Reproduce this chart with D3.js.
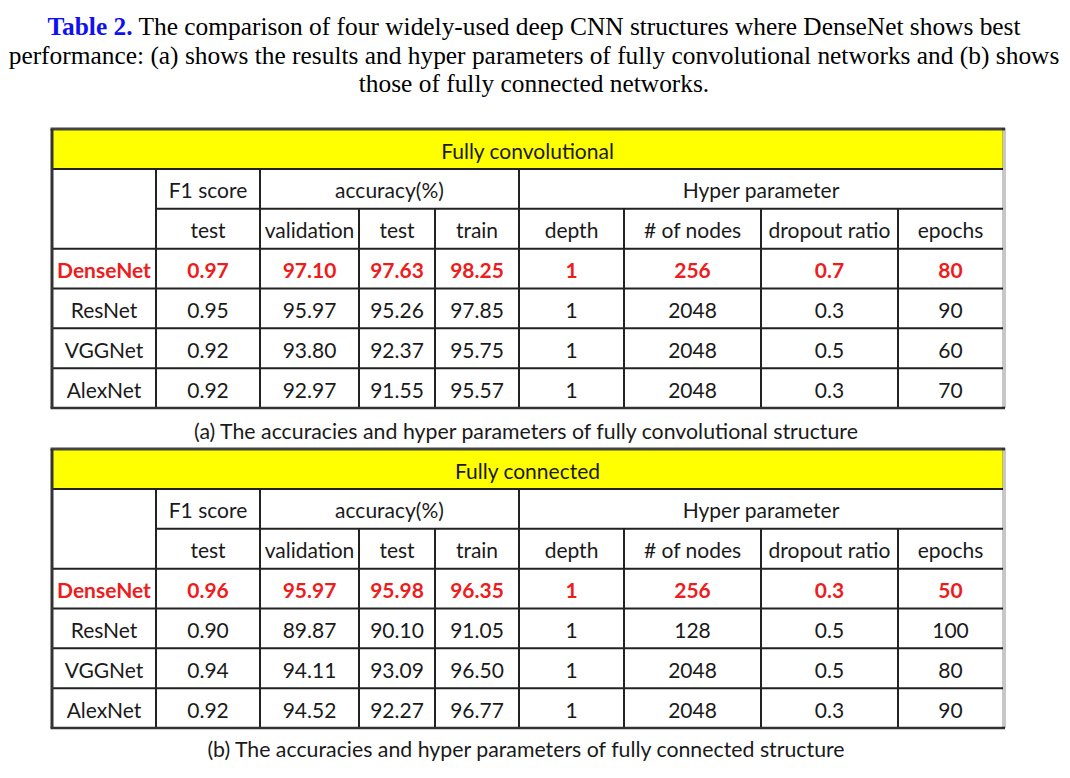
<!DOCTYPE html>
<html>
<head>
<meta charset="utf-8">
<script src="https://cdn.jsdelivr.net/npm/d3@7"></script>
<style>
  html, body { margin: 0; padding: 0; background: #fff; }
  svg { display: block; }
</style>
</head>
<body>
<div id="chart"></div>
<script>
// table data
const models = ['DenseNet', 'ResNet', 'VGGNet', 'AlexNet']
const groupHeaders = ['F1 score', 'accuracy(%)', 'Hyper parameter']
const subHeaders = ['test', 'validation', 'test', 'train', 'depth', '# of nodes', 'dropout ratio', 'epochs']

const convF1 = [0.97, 0.95, 0.92, 0.92]
const convValidation = [97.10, 95.97, 93.80, 92.97]
const convTest = [97.63, 95.26, 92.37, 91.55]
const convTrain = [98.25, 97.85, 95.75, 95.57]
const convDepth = [1, 1, 1, 1]
const convNodes = [256, 2048, 2048, 2048]
const convDropout = [0.7, 0.3, 0.5, 0.3]
const convEpochs = [80, 90, 60, 70]

const connF1 = [0.96, 0.90, 0.94, 0.92]
const connValidation = [95.97, 89.87, 94.11, 94.52]
const connTest = [95.98, 90.10, 93.09, 92.27]
const connTrain = [96.35, 91.05, 96.50, 96.77]
const connDepth = [1, 1, 1, 1]
const connNodes = [256, 128, 2048, 2048]
const connDropout = [0.3, 0.5, 0.5, 0.3]
const connEpochs = [50, 100, 80, 90]

const bestModel = 'DenseNet'

const W = 1070, H = 778
const cellFont = 'Lato, "Open Sans", sans-serif'
const colEdges = [52, 156, 260, 359, 435, 519, 624, 761, 898, 1003]
const f2 = d3.format('.2f'), f1 = d3.format('.1f'), f0 = d3.format('d')
const colFormats = [d => d, f2, f2, f2, f2, f0, f0, f1, f0]
// which column span each group header covers
const groupSpans = [[1, 2], [2, 5], [5, 9]]

const svg = d3.select('#chart').append('svg')
  .attr('width', W)
  .attr('height', H)

// caption
const title = svg.append('text')
  .attr('text-anchor', 'middle')
  .style('font-family', '"Liberation Serif", "Times New Roman", serif')
  .style('font-size', '25.4px')
  .attr('fill', '#000')

const line1 = title.append('tspan').attr('x', 534).attr('y', 35)
line1.append('tspan').attr('fill', '#1010f0').style('font-weight', 'bold').text('Table 2.')
line1.append('tspan').text(' The comparison of four widely-used deep CNN structures where DenseNet shows best')
title.append('tspan').attr('x', 534).attr('y', 64)
  .text('performance: (a) shows the results and hyper parameters of fully convolutional networks and (b) shows')
title.append('tspan').attr('x', 534).attr('y', 92)
  .text('those of fully connected networks.')

function drawTable(top, heading, columns, caption, captionY) {
  const rowKeys = ['head', 'group', 'sub', ...models]
  const rowH = 239 / 6
  // yellow heading row is 40px, the rest share the remaining height
  const y = d3.scaleBand()
    .domain(rowKeys.slice(1))
    .range([top + 40, top + 40 + 239])
  const rowTop = k => k === 'head' ? top : y(k)
  const rowMid = k => k === 'head' ? top + 20 : y(k) + y.bandwidth() / 2
  const bottom = top + 40 + 239
  const x = i => colEdges[i]
  const cx = (a, b) => (colEdges[a] + colEdges[b]) / 2

  const g = svg.append('g')

  g.append('rect')
    .attr('x', x(0)).attr('y', top)
    .attr('width', x(9) - x(0)).attr('height', 40)
    .attr('fill', '#ffff00')

  // horizontal rules
  const hRules = [
    { y: top + 40, x0: 0 },
    { y: rowTop('sub'), x0: 1 },
    ...models.map(m => ({ y: rowTop(m), x0: 0 }))
  ]
  g.selectAll('.hrule')
    .data(hRules)
    .join('line')
    .attr('x1', d => x(d.x0)).attr('x2', x(9))
    .attr('y1', d => d.y).attr('y2', d => d.y)
    .attr('stroke', '#222').attr('stroke-width', 2)

  // vertical rules: some start under the group header
  const vRules = d3.range(1, 9).map(i => ({
    i,
    y0: [1, 2, 5].includes(i) ? top + 40 : rowTop('sub')
  }))
  g.selectAll('.vrule')
    .data(vRules)
    .join('line')
    .attr('x1', d => x(d.i)).attr('x2', d => x(d.i))
    .attr('y1', d => d.y0).attr('y2', bottom)
    .attr('stroke', '#222').attr('stroke-width', 2)

  // outer border
  g.append('line')
    .attr('x1', x(0) - 1.5).attr('x2', x(9) + 2).attr('y1', top).attr('y2', top)
    .attr('stroke', '#444').attr('stroke-width', 3)
  g.append('line')
    .attr('x1', x(0) - 1.5).attr('x2', x(9) + 2).attr('y1', bottom).attr('y2', bottom)
    .attr('stroke', '#333').attr('stroke-width', 2.5)
  g.append('line')
    .attr('x1', x(0)).attr('x2', x(0)).attr('y1', top).attr('y2', bottom)
    .attr('stroke', '#333').attr('stroke-width', 3)
  g.append('rect')
    .attr('x', x(9) - 1).attr('y', top - 1)
    .attr('width', 4).attr('height', bottom - top + 1)
    .attr('fill', 'rgba(0,0,0,0.22)')

  const txt = g.append('g')
    .style('font-family', cellFont)
    .style('font-size', '21px')
    .attr('text-anchor', 'middle')
    .attr('dominant-baseline', 'central')

  txt.append('text')
    .attr('x', cx(0, 9)).attr('y', rowMid('head') + 1)
    .attr('fill', '#1a1a1a')
    .text(heading)

  txt.selectAll('.grp')
    .data(groupHeaders)
    .join('text')
    .attr('x', (d, i) => cx(groupSpans[i][0], groupSpans[i][1]))
    .attr('y', rowMid('group') + 1)
    .attr('fill', '#1a1a1a')
    .text(d => d)

  txt.selectAll('.sub')
    .data(subHeaders)
    .join('text')
    .attr('x', (d, i) => cx(i + 1, i + 2))
    .attr('y', rowMid('sub') + 1)
    .attr('fill', '#1a1a1a')
    .text(d => d)

  const cells = models.flatMap((m, r) =>
    [m, ...columns.map(col => col[r])].map((v, c) => ({ model: m, c, v }))
  )
  txt.selectAll('.cell')
    .data(cells)
    .join('text')
    .attr('x', d => cx(d.c, d.c + 1))
    .attr('y', d => rowMid(d.model) + 1)
    .attr('fill', d => d.model === bestModel ? '#ee1c1c' : '#1a1a1a')
    .style('font-weight', d => d.model === bestModel ? 'bold' : 'normal')
    .text(d => colFormats[d.c](d.v))

  txt.append('text')
    .attr('x', 526).attr('y', captionY)
    .style('font-size', '21.3px')
    .attr('fill', '#1a1a1a')
    .text(caption)
}

drawTable(129, 'Fully convolutional',
  [convF1, convValidation, convTest, convTrain, convDepth, convNodes, convDropout, convEpochs],
  '(a) The accuracies and hyper parameters of fully convolutional structure', 431)

drawTable(449, 'Fully connected',
  [connF1, connValidation, connTest, connTrain, connDepth, connNodes, connDropout, connEpochs],
  '(b) The accuracies and hyper parameters of fully connected structure', 749)
</script>
</body>
</html>
